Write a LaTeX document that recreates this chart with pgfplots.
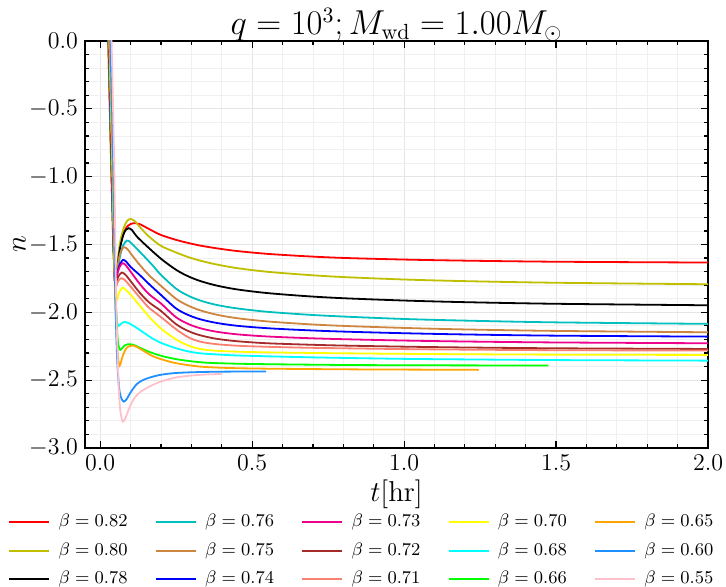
\documentclass[border=0pt]{standalone}
\usepackage{pgfplots}
\pgfplotsset{compat=1.18}

\definecolor{mplolive}{HTML}{BFBF00}
\definecolor{mplteal}{HTML}{00BFBF}
\definecolor{peru}{HTML}{CD853F}
\definecolor{mplbrown}{HTML}{A52A2A}
\definecolor{salmon}{HTML}{FA8072}
\definecolor{mplyellow}{HTML}{FFFF00}
\definecolor{mplcyan}{HTML}{00FFFF}
\definecolor{lime}{HTML}{00FF00}
\definecolor{mplorange}{HTML}{FFA500}
\definecolor{dodgerblue}{HTML}{1E90FF}
\definecolor{mplpink}{HTML}{FFC0CB}

\begin{document}
\begin{tikzpicture}
\begin{axis}[
  scale only axis,
  width=311.5pt, height=203.5pt,
  xmin=-0.05, xmax=2.0,
  ymin=-3, ymax=0,
  xtick={0,0.5,1,1.5,2},
  ytick={-3,-2.5,-2,-1.5,-1,-0.5,0},
  minor x tick num=4,
  minor y tick num=4,
  tick align=inside,
  major tick length=3.5pt,
  minor tick length=2pt,
  every tick/.style={black, line width=0.6pt},
  grid=both,
  major grid style={black!10, line width=0.4pt},
  minor grid style={black!6, line width=0.4pt},
  axis line style={line width=0.75pt},
  xticklabel style={/pgf/number format/.cd, fixed, fixed zerofill, precision=1},
  yticklabel style={/pgf/number format/.cd, fixed, fixed zerofill, precision=1},
  tick label style={font=\fontsize{13}{15}\selectfont},
  xlabel={$t[\mathrm{hr}]$},
  ylabel={$n$},
  label style={font=\fontsize{15}{17}\selectfont},
  ylabel style={yshift=-5pt},
  xlabel style={yshift=2pt},
  title={$q=10^3; M_{\mathrm{wd}}=1.00M_\odot$},
  title style={font=\fontsize{16}{18}\selectfont, inner sep=1pt, yshift=-7.5pt},
  legend columns=3,
  transpose legend,
  legend cell align=left,
  legend image code/.code={\draw[#1] (0pt,0pt) -- (20pt,0pt); \path (22.25pt,0pt);},
  legend style={draw=none, fill=none, font=\fontsize{8.6}{10.5}\selectfont,
    at={(-0.1236,-0.1523)}, anchor=north west, inner sep=0pt,
    row sep=2.5pt,
    /tikz/every even column/.append style={column sep=11.6pt}},
  every axis plot/.append style={line width=0.9pt, smooth},
]
\addplot[red] coordinates {(0.023,0.35) (0.026,0.05) (0.036,-0.9) (0.044,-1.55) (0.050,-1.78) (0.056,-1.68) (0.065,-1.52) (0.078,-1.41) (0.092,-1.36) (0.110,-1.343) (0.13,-1.350) (0.16,-1.385) (0.20,-1.430) (0.25,-1.466) (0.29,-1.489) (0.329,-1.508) (0.38,-1.527) (0.45,-1.548) (0.55,-1.569) (0.68,-1.587) (0.80,-1.599) (1.0,-1.611) (1.2,-1.619) (1.5,-1.627) (2.0,-1.633)};
\addlegendentry{$\beta=0.82$}
\addplot[mplolive] coordinates {(0.023,0.35) (0.026,0.05) (0.036,-0.9) (0.044,-1.55) (0.050,-1.78) (0.056,-1.66) (0.065,-1.49) (0.077,-1.38) (0.089,-1.325) (0.101,-1.312) (0.115,-1.33) (0.13,-1.37) (0.16,-1.44) (0.20,-1.510) (0.25,-1.559) (0.29,-1.593) (0.329,-1.619) (0.38,-1.646) (0.45,-1.674) (0.55,-1.701) (0.68,-1.724) (0.80,-1.740) (1.0,-1.758) (1.2,-1.770) (1.5,-1.782) (2.0,-1.793)};
\addlegendentry{$\beta=0.80$}
\addplot[black] coordinates {(0.024,0.35) (0.027,0.05) (0.037,-0.9) (0.045,-1.58) (0.050,-1.79) (0.056,-1.68) (0.065,-1.53) (0.076,-1.43) (0.085,-1.39) (0.094,-1.380) (0.105,-1.395) (0.12,-1.44) (0.15,-1.505) (0.20,-1.605) (0.25,-1.687) (0.29,-1.735) (0.329,-1.769) (0.38,-1.801) (0.45,-1.831) (0.55,-1.858) (0.68,-1.881) (0.80,-1.896) (1.0,-1.913) (1.2,-1.925) (1.5,-1.937) (2.0,-1.948)};
\addlegendentry{$\beta=0.78$}
\addplot[mplteal] coordinates {(0.024,0.35) (0.027,0.05) (0.037,-0.9) (0.045,-1.60) (0.050,-1.80) (0.056,-1.71) (0.065,-1.59) (0.075,-1.51) (0.088,-1.471) (0.10,-1.485) (0.12,-1.53) (0.15,-1.60) (0.175,-1.66) (0.20,-1.724) (0.25,-1.826) (0.29,-1.878) (0.329,-1.913) (0.38,-1.944) (0.45,-1.971) (0.55,-1.996) (0.68,-2.017) (0.80,-2.031) (1.0,-2.049) (1.2,-2.061) (1.5,-2.074) (2.0,-2.085)};
\addlegendentry{$\beta=0.76$}
\addplot[peru] coordinates {(0.025,0.35) (0.028,0.05) (0.038,-0.9) (0.046,-1.62) (0.050,-1.80) (0.056,-1.68) (0.065,-1.57) (0.077,-1.520) (0.09,-1.535) (0.105,-1.58) (0.13,-1.65) (0.16,-1.725) (0.20,-1.805) (0.25,-1.901) (0.29,-1.951) (0.329,-1.985) (0.38,-2.016) (0.45,-2.043) (0.55,-2.067) (0.68,-2.087) (0.80,-2.100) (1.0,-2.115) (1.2,-2.126) (1.5,-2.137) (2.0,-2.147)};
\addlegendentry{$\beta=0.75$}
\addplot[blue] coordinates {(0.025,0.35) (0.028,0.05) (0.038,-0.9) (0.046,-1.63) (0.050,-1.80) (0.056,-1.71) (0.065,-1.645) (0.075,-1.614) (0.085,-1.625) (0.10,-1.665) (0.13,-1.725) (0.16,-1.79) (0.20,-1.872) (0.25,-1.972) (0.29,-2.020) (0.329,-2.051) (0.38,-2.077) (0.45,-2.099) (0.55,-2.117) (0.68,-2.132) (0.80,-2.142) (1.0,-2.154) (1.2,-2.163) (1.5,-2.172) (2.0,-2.179)};
\addlegendentry{$\beta=0.74$}
\addplot[magenta] coordinates {(0.026,0.35) (0.029,0.05) (0.039,-0.9) (0.046,-1.63) (0.050,-1.80) (0.056,-1.72) (0.064,-1.665) (0.073,-1.638) (0.083,-1.65) (0.10,-1.70) (0.13,-1.79) (0.16,-1.865) (0.20,-1.935) (0.25,-2.037) (0.29,-2.086) (0.329,-2.117) (0.38,-2.142) (0.45,-2.162) (0.55,-2.178) (0.68,-2.190) (0.80,-2.198) (1.0,-2.208) (1.2,-2.215) (1.5,-2.222) (2.0,-2.228)};
\addlegendentry{$\beta=0.73$}
\addplot[mplbrown] coordinates {(0.026,0.35) (0.029,0.05) (0.039,-0.9) (0.046,-1.64) (0.050,-1.80) (0.057,-1.75) (0.064,-1.72) (0.071,-1.707) (0.082,-1.72) (0.10,-1.77) (0.13,-1.855) (0.16,-1.925) (0.20,-1.990) (0.25,-2.088) (0.29,-2.138) (0.329,-2.169) (0.38,-2.194) (0.45,-2.213) (0.55,-2.228) (0.68,-2.238) (0.80,-2.245) (1.0,-2.253) (1.2,-2.259) (1.5,-2.265) (2.0,-2.270)};
\addlegendentry{$\beta=0.72$}
\addplot[salmon] coordinates {(0.027,0.35) (0.030,0.05) (0.040,-0.9) (0.047,-1.66) (0.051,-1.81) (0.057,-1.78) (0.063,-1.757) (0.069,-1.749) (0.08,-1.76) (0.10,-1.81) (0.13,-1.89) (0.16,-1.965) (0.20,-2.035) (0.25,-2.125) (0.29,-2.184) (0.329,-2.216) (0.38,-2.234) (0.45,-2.246) (0.55,-2.254) (0.68,-2.261) (0.80,-2.265) (1.0,-2.271) (1.2,-2.275) (1.5,-2.279) (2.0,-2.282)};
\addlegendentry{$\beta=0.71$}
\addplot[mplyellow] coordinates {(0.027,0.35) (0.030,0.05) (0.040,-0.9) (0.048,-1.70) (0.055,-1.90) (0.062,-1.855) (0.072,-1.82) (0.082,-1.83) (0.10,-1.87) (0.13,-1.95) (0.16,-2.03) (0.20,-2.12) (0.25,-2.20) (0.29,-2.245) (0.329,-2.270) (0.38,-2.283) (0.45,-2.290) (0.55,-2.295) (0.68,-2.299) (0.80,-2.302) (1.0,-2.306) (1.2,-2.309) (1.5,-2.312) (2.0,-2.314)};
\addlegendentry{$\beta=0.70$}
\addplot[mplcyan] coordinates {(0.028,0.35) (0.031,0.05) (0.041,-0.9) (0.049,-1.80) (0.055,-2.05) (0.060,-2.10) (0.066,-2.09) (0.074,-2.075) (0.082,-2.071) (0.092,-2.078) (0.11,-2.10) (0.14,-2.145) (0.17,-2.19) (0.20,-2.225) (0.25,-2.265) (0.29,-2.288) (0.329,-2.302) (0.38,-2.310) (0.45,-2.318) (0.55,-2.324) (0.68,-2.331) (0.80,-2.336) (1.0,-2.343) (1.2,-2.347) (1.5,-2.352) (2.0,-2.356)};
\addlegendentry{$\beta=0.68$}
\addplot[lime] coordinates {(0.029,0.35) (0.032,0.05) (0.042,-0.9) (0.050,-1.85) (0.057,-2.18) (0.062,-2.26) (0.066,-2.277) (0.072,-2.265) (0.080,-2.245) (0.090,-2.236) (0.099,-2.235) (0.11,-2.24) (0.13,-2.26) (0.16,-2.29) (0.20,-2.320) (0.25,-2.345) (0.329,-2.368) (0.42,-2.377) (0.54,-2.382) (0.80,-2.388) (1.0,-2.390) (1.2,-2.391) (1.475,-2.392)};
\addlegendentry{$\beta=0.66$}
\addplot[mplorange] coordinates {(0.028,0.35) (0.031,0.05) (0.041,-0.9) (0.049,-1.85) (0.056,-2.25) (0.060,-2.36) (0.064,-2.393) (0.068,-2.37) (0.076,-2.31) (0.086,-2.265) (0.097,-2.248) (0.108,-2.245) (0.12,-2.255) (0.14,-2.28) (0.17,-2.32) (0.20,-2.345) (0.25,-2.375) (0.329,-2.400) (0.42,-2.410) (0.54,-2.415) (0.80,-2.420) (1.0,-2.422) (1.245,-2.424)};
\addlegendentry{$\beta=0.65$}
\addplot[dodgerblue] coordinates {(0.030,0.35) (0.033,0.05) (0.043,-0.9) (0.050,-1.90) (0.056,-2.35) (0.062,-2.55) (0.068,-2.625) (0.077,-2.658) (0.087,-2.64) (0.10,-2.59) (0.12,-2.53) (0.14,-2.50) (0.164,-2.480) (0.20,-2.460) (0.25,-2.447) (0.329,-2.440) (0.42,-2.437) (0.546,-2.436)};
\addlegendentry{$\beta=0.60$}
\addplot[mplpink] coordinates {(0.034,0.35) (0.037,0.05) (0.046,-0.9) (0.053,-1.95) (0.060,-2.50) (0.066,-2.72) (0.074,-2.805) (0.083,-2.78) (0.095,-2.71) (0.11,-2.64) (0.13,-2.59) (0.164,-2.545) (0.20,-2.510) (0.25,-2.480) (0.30,-2.466) (0.35,-2.458) (0.40,-2.454)};
\addlegendentry{$\beta=0.55$}
\end{axis}
\pgfresetboundingbox
\path[use as bounding box] ([shift={(-42.5pt,-69.5pt)}]current axis.south west) rectangle ([shift={(320.5pt,224pt)}]current axis.south west);
\end{tikzpicture}
\end{document}
